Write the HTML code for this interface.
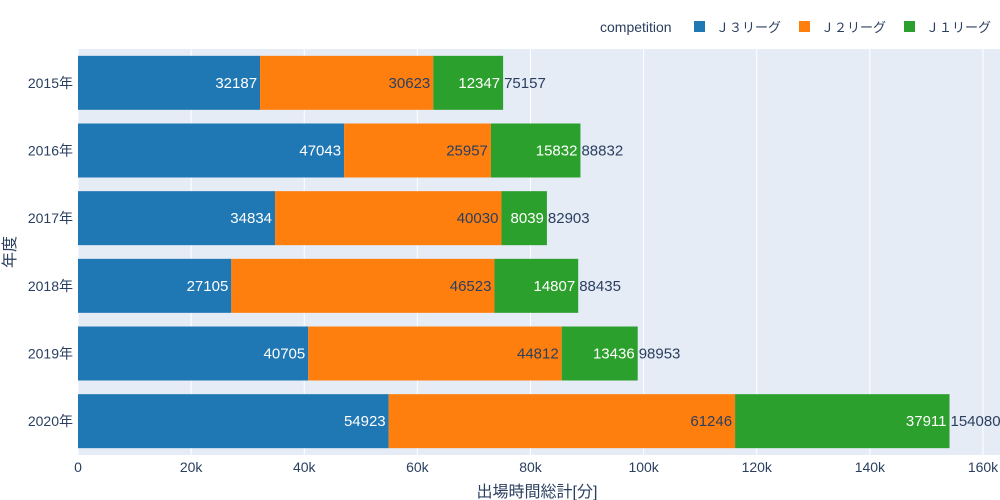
<!DOCTYPE html>
<html><head><meta charset="utf-8">
<style>
body{margin:0;background:#fff;}
svg{display:block;font-family:"Liberation Sans","Noto Sans CJK JP",sans-serif;}
</style></head>
<body>
<svg id="chart" width="1000" height="500"></svg>
<script>
const years=["2015年","2016年","2017年","2018年","2019年","2020年"];
const j3=[32187,47043,34834,27105,40705,54923];
const j2=[30623,25957,40030,46523,44812,61246];
const j1=[12347,15832,8039,14807,13436,37911];
const xTicks=[0,20000,40000,60000,80000,100000,120000,140000,160000];
const xTickLabels=["0","20k","40k","60k","80k","100k","120k","140k","160k"];
const seriesNames=["Ｊ３リーグ","Ｊ２リーグ","Ｊ１リーグ"];
const colors=["#1f77b4","#ff7f0e","#2ca02c"];
const NS="http://www.w3.org/2000/svg";
const svg=document.getElementById('chart');
const L=78,R=1000,T=49,B=455;
const xs=v=>L+v*(983-78)/160000;
const band=(B-T)/years.length;
const yc=i=>T+band*(i+0.5);
function el(tag,attrs,parent){const e=document.createElementNS(NS,tag);for(const k in attrs)e.setAttribute(k,attrs[k]);(parent||svg).appendChild(e);return e;}
const bg=el('rect',{x:L,y:T,width:R-L,height:B-T,fill:'#e5ecf6'});


xTicks.forEach((t,i)=>{
 const g=el('line',{x1:xs(t),x2:xs(t),y1:T,y2:B,stroke:'#fff','stroke-width':1});
 
 
 const tl=el('text',{x:xs(t),y:472,'text-anchor':'middle','font-size':14,fill:'#2a3f5f'});
 tl.textContent=xTickLabels[i];
 
 
});
const series=[j3,j2,j1];
years.forEach((y,i)=>{
 const h=54,top=yc(i)-h/2;let acc=0;
 series.forEach((s,k)=>{
  const v=s[i];
  const r=el('rect',{x:xs(acc),y:top,width:xs(acc+v)-xs(acc),height:h,fill:colors[k]});
  
  
  const t=el('text',{x:xs(acc+v)-3,y:yc(i)+5,'text-anchor':'end','font-size':15,fill:k==1?'#2a3f5f':'#fff'});
  t.textContent=v;
  
  
  acc+=v;
 });
 const tot=el('text',{x:xs(acc)+1,y:yc(i)+5,'font-size':15,fill:'#2a3f5f'});
 tot.textContent=acc;
 
 
 const yl=el('text',{x:73,y:yc(i)+5,'text-anchor':'end','font-size':14,fill:'#2a3f5f'});
 yl.textContent=y;
 
 
});
const xt=el('text',{x:537,y:497,'text-anchor':'middle','font-size':16,fill:'#2a3f5f'});
xt.textContent="出場時間総計[分]";


const yt=el('text',{x:15,y:252,'text-anchor':'middle','font-size':16,fill:'#2a3f5f',transform:'rotate(-90 15 252)'});
yt.textContent="年度";


const lt=el('text',{x:600,y:32,'font-size':14,fill:'#2a3f5f'});
lt.textContent="competition";


const lx=[694,799,904];
seriesNames.forEach((n,k)=>{
 const sq=el('rect',{x:lx[k],y:21,width:11,height:11,fill:colors[k]});
 
 
 const t=el('text',{x:lx[k]+22,y:32,'font-size':13,fill:'#2a3f5f'});
 t.textContent=n;
 
 
});
</script>
</body></html>
